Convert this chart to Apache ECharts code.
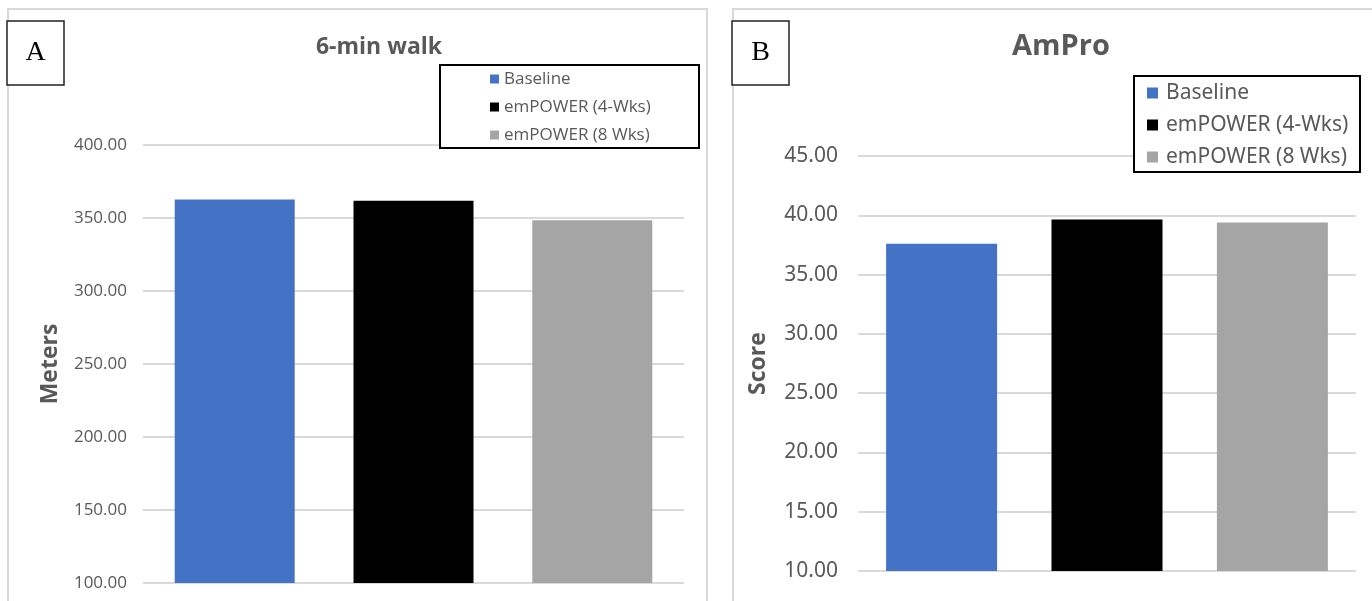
<!DOCTYPE html>
<html>
<head>
<meta charset="utf-8">
<script src="https://cdn.jsdelivr.net/npm/echarts@6/dist/echarts.min.js"></script>
<style>
  html, body { margin: 0; padding: 0; background: #fff; }
  #chart { width: 1372px; height: 601px; }
</style>
</head>
<body>
<div id="chart"></div>
<script>
// Series names shared by both panels
const seriesNames = ['Baseline', 'emPOWER (4-Wks)', 'emPOWER (8 Wks)'];
const seriesColors = ['#4472C4', '#000000', '#A5A5A5'];

// Panel A: 6-min walk distance (meters)
const walkValues = [362.6, 361.8, 348.5];
const walkTicks = { min: 100, max: 400, interval: 50 };

// Panel B: AmPro score
const amproValues = [37.6, 39.64, 39.4];
const amproTicks = { min: 10, max: 45, interval: 5 };

const labelGray = '#595959';
const gridGray = '#d9d9d9';

const chart = echarts.init(document.getElementById('chart'), null, { renderer: 'canvas' });

function barSeries(values, axisIndex, barWidth) {
  return seriesNames.map((name, i) => ({
    name: name,
    type: 'bar',
    xAxisIndex: axisIndex,
    yAxisIndex: axisIndex,
    barWidth: barWidth,
    barGap: '49%',
    itemStyle: { color: seriesColors[i] },
    data: [values[i]]
  }));
}

function yAxisDef(ticks, gridIndex, name, nameGap, nameSize, labelMargin, fontFamily, fontSize) {
  return {
    type: 'value',
    gridIndex: gridIndex,
    min: ticks.min,
    max: ticks.max,
    interval: ticks.interval,
    name: name,
    nameLocation: 'middle',
    nameRotate: 90,
    nameGap: nameGap,
    nameTextStyle: { color: labelGray, fontSize: nameSize, fontWeight: 'bold', fontFamily: 'Open Sans' },
    axisLine: { show: false },
    axisTick: { show: false },
    axisLabel: {
      color: labelGray, fontSize: fontSize, fontFamily: fontFamily, margin: labelMargin,
      formatter: v => v.toFixed(2)
    },
    splitLine: { lineStyle: { color: gridGray, width: 2 } }
  };
}

function xAxisDef(gridIndex) {
  return {
    type: 'category',
    gridIndex: gridIndex,
    data: [''],
    axisLine: { show: false },
    axisTick: { show: false },
    axisLabel: { show: false },
    splitLine: { show: false }
  };
}

function panelBox(x, label) {
  return [
    { type: 'rect', z: 0, shape: { x: x, y: 9, width: 699, height: 700 },
      style: { fill: '#fff', stroke: gridGray, lineWidth: 2 } },
    { type: 'rect', z: 10, shape: { x: x - 1, y: 21, width: 57, height: 64 },
      style: { fill: '#fff', stroke: '#222', lineWidth: 1.5 } },
    { type: 'text', z: 11, x: x + 27.5, y: 53,
      style: { text: label, fill: '#000', font: '28px "Liberation Serif"', textAlign: 'center', textVerticalAlign: 'middle' } }
  ];
}

function legendBox(x, y, w, h) {
  return { type: 'rect', z: 10, shape: { x: x, y: y, width: w, height: h },
    style: { fill: '#fff', stroke: '#000', lineWidth: 2 } };
}

const option = {
  animation: false,
  backgroundColor: '#fff',
  title: [
    { text: '6-min walk', left: 374, top: 31, textAlign: 'center',
      textStyle: { color: labelGray, fontSize: 23, fontWeight: 'bold', fontFamily: 'Open Sans' } },
    { text: 'AmPro', left: 1056, top: 27, textAlign: 'center',
      textStyle: { color: labelGray, fontSize: 29, fontWeight: 'bold', fontFamily: 'Open Sans' } }
  ],
  legend: [
    { data: seriesNames, orient: 'vertical', left: 490, top: 68, padding: 0,
      itemWidth: 9, itemHeight: 9, itemGap: 6, icon: 'rect', z: 12,
      textStyle: { color: labelGray, fontSize: 17, fontFamily: 'Open Sans', lineHeight: 22, padding: [0, 0, 0, 0] } },
    { data: seriesNames, orient: 'vertical', left: 1147, top: 80, padding: 0,
      itemWidth: 11, itemHeight: 11, itemGap: 6, icon: 'rect', z: 12,
      textStyle: { color: labelGray, fontSize: 21, fontFamily: 'Noto Sans', lineHeight: 26, padding: [0, 0, 0, 3] } }
  ],
  grid: [
    { left: 143, top: 145, width: 541, height: 438 },
    { left: 858, top: 156, width: 498, height: 415 }
  ],
  xAxis: [xAxisDef(0), xAxisDef(1)],
  yAxis: [
    yAxisDef(walkTicks, 0, 'Meters', 81, 23, 16, 'Open Sans', 17),
    yAxisDef(amproTicks, 1, 'Score', 88, 23, 20, 'Noto Sans', 21)
  ],
  series: [].concat(barSeries(walkValues, 0, 120), barSeries(amproValues, 1, 111)),
  graphic: [].concat(
    panelBox(8, 'A'),
    panelBox(733, 'B'),
    [legendBox(440, 65, 259, 83), legendBox(1134, 76, 226, 96)]
  )
};

chart.setOption(option);
</script>
</body>
</html>
